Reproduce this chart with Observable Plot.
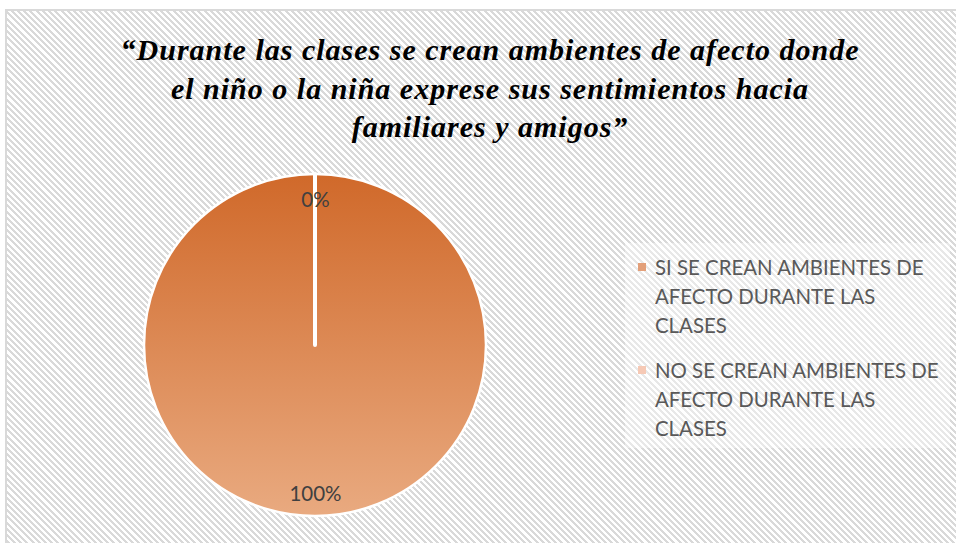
<!DOCTYPE html>
<html>
<head>
<meta charset="utf-8">
<script src="https://cdn.jsdelivr.net/npm/d3@7"></script>
<script src="https://cdn.jsdelivr.net/npm/@observablehq/plot@0.6"></script>
<style>
  html, body { margin: 0; padding: 0; background: #fff; }
  #page { position: relative; width: 956px; height: 543px; overflow: hidden; }
  #frame {
    position: absolute; left: 5px; top: 9px; width: 970px; height: 560px;
    border-left: 2px solid #d9d9d9; border-top: 2px solid #d9d9d9;
    background: repeating-linear-gradient(45deg, #ffffff 0px, #ffffff 2.3px, #d9d9d9 2.3px, #d9d9d9 4.4px);
  }
  #title {
    position: absolute; left: 0; top: 31px; width: 980px; text-align: center;
    font-family: "Liberation Serif", "Times New Roman", serif; font-weight: bold; font-style: italic;
    font-size: 30px; letter-spacing: 1px; line-height: 38.5px; color: #000;
  }
  #chart { position: absolute; left: 135px; top: 165px; }
  #legend {
    position: absolute; left: 625px; top: 243px; width: 325px; height: 205px;
    background: rgba(255,255,255,0.4);
    font-family: Lato, "Open Sans", sans-serif; font-size: 20.4px; line-height: 29px; color: #595959;
  }
  .item { position: absolute; left: 30px; width: 290px; }
  .sw { position: absolute; left: -17px; top: 10px; width: 8px; height: 8px; }
</style>
</head>
<body>
<div id="page">
  <div id="frame"></div>
  <div id="title"></div>
  <div id="chart"></div>
  <div id="legend"></div>
</div>
<script>
const titleLines = [
  "“Durante las clases se crean ambientes de afecto donde",
  "el niño o la niña exprese sus sentimientos hacia",
  "familiares y amigos”"
];
const categories = [
  "SI SE CREAN AMBIENTES DE AFECTO DURANTE LAS CLASES",
  "NO SE CREAN AMBIENTES DE AFECTO DURANTE LAS CLASES"
];
const values = [100, 0];
const percentLabels = ["100%", "0%"];
const sliceTop = ["#d0692a", "#f3c3ab"];
const sliceBottom = ["#e9aa80", "#f8dccd"];
const swatchColors = ["#e3a07a", "#f6c9b5"];

document.getElementById("title").innerHTML = titleLines.map(t => `<div>${t}</div>`).join("");

const data = categories.map((c, i) => ({category: c, value: values[i], label: percentLabels[i], i}));
const arcs = d3.pie().sort(null).value(d => d.value)(data);

const size = 360;
const radiusPx = 171;
const k = (size / 2) / radiusPx;
const labelR = 0.86;

const labelData = arcs.map(a => {
  const mid = (a.startAngle + a.endAngle) / 2;
  return {x: Math.sin(mid) * labelR, y: Math.cos(mid) * labelR, label: a.data.label};
});

function pieMark(index, scales) {
  const cx = scales.x(0), cy = scales.y(0);
  const R = scales.x(1) - scales.x(0);
  const g = d3.create("svg:g");
  const defs = g.append("defs");
  arcs.forEach((a, i) => {
    const lg = defs.append("linearGradient")
      .attr("id", "grad" + i)
      .attr("gradientUnits", "userSpaceOnUse")
      .attr("x1", 0).attr("y1", -R).attr("x2", 0).attr("y2", R);
    lg.append("stop").attr("offset", "0%").attr("stop-color", sliceTop[i]);
    lg.append("stop").attr("offset", "100%").attr("stop-color", sliceBottom[i]);
  });
  const arc = d3.arc().innerRadius(0).outerRadius(R);
  const root = g.append("g").attr("transform", `translate(${cx},${cy})`);
  root.selectAll("path.slice").data(arcs).join("path")
    .attr("d", arc)
    .attr("fill", (d, i) => `url(#grad${i})`)
    .attr("stroke", "#fff")
    .attr("stroke-width", (d) => d.value === 0 ? 4 : 2.5)
    .attr("stroke-linejoin", "round");
  return g.node();
}

const chart = Plot.plot({
  width: size,
  height: size,
  margin: 0,
  style: {background: "transparent", overflow: "visible"},
  x: {domain: [-k, k], axis: null},
  y: {domain: [-k, k], axis: null},
  marks: [
    pieMark,
    Plot.text(labelData, {
      x: "x", y: "y", text: "label", dy: 2,
      fill: "#404040", fontSize: 20.5,
      fontFamily: "Lato, 'Open Sans', sans-serif"
    })
  ]
});
document.getElementById("chart").appendChild(chart);

const legend = document.getElementById("legend");
const tops = [10, 113];
categories.forEach((c, i) => {
  const it = document.createElement("div");
  it.className = "item";
  it.style.top = tops[i] + "px";
  it.innerHTML = `<span class="sw" style="background:${swatchColors[i]}"></span>${c}`;
  legend.appendChild(it);
});
</script>
</body>
</html>
